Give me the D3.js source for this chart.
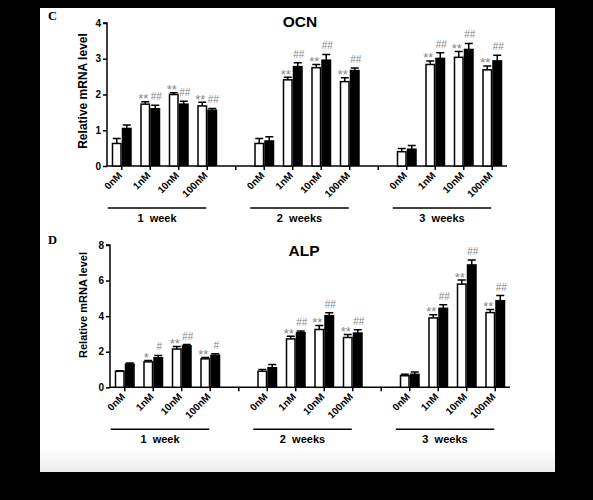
<!DOCTYPE html>
<html>
<head>
<meta charset="utf-8">
<script src="https://cdn.jsdelivr.net/npm/d3@7"></script>
<style>
  html, body { margin: 0; padding: 0; background: #000; }
  svg { display: block; font-family: "Liberation Sans", Arial, sans-serif; }
</style>
</head>
<body>
<svg id="chart" width="593" height="500"></svg>
<script>
// categories
const concentrations = ["0nM", "1nM", "10nM", "100nM"];
const weeks = ["1  week", "2  weeks", "3  weeks"];

// OCN panel (C), order: week1 0/1/10/100nM, week2 ..., week3 ...
const ocnWhite    = [0.63, 1.73, 2.00, 1.68,  0.63, 2.41, 2.75, 2.36,  0.40, 2.84, 3.04, 2.69];
const ocnWhiteErr = [0.14, 0.07, 0.05, 0.10,  0.14, 0.07, 0.09, 0.11,  0.09, 0.10, 0.16, 0.11];
const ocnBlack    = [1.05, 1.60, 1.73, 1.56,  0.70, 2.78, 2.96, 2.67,  0.47, 3.01, 3.26, 2.94];
const ocnBlackErr = [0.10, 0.10, 0.08, 0.05,  0.12, 0.11, 0.16, 0.07,  0.10, 0.16, 0.17, 0.16];
const ocnWhiteMark = ["", "**", "**", "**",  "", "**", "**", "**",  "", "**", "**", "**"];
const ocnBlackMark = ["", "##", "##", "##",  "", "##", "##", "##",  "", "##", "##", "##"];
const ocnTicks = [0, 1, 2, 3, 4];

// ALP panel (D)
const alpWhite    = [0.90, 1.43, 2.15, 1.60,  0.90, 2.72, 3.25, 2.80,  0.65, 3.90, 5.80, 4.20];
const alpWhiteErr = [0.03, 0.08, 0.15, 0.08,  0.10, 0.15, 0.22, 0.17,  0.09, 0.18, 0.23, 0.18];
const alpBlack    = [1.30, 1.66, 2.33, 1.80,  1.10, 3.07, 4.03, 3.05,  0.73, 4.44, 6.88, 4.87];
const alpBlackErr = [0.06, 0.13, 0.07, 0.09,  0.18, 0.10, 0.16, 0.19,  0.13, 0.20, 0.28, 0.29];
const alpWhiteMark = ["", "*", "**", "**",  "", "**", "**", "**",  "", "**", "**", "**"];
const alpBlackMark = ["", "#", "##", "#",  "", "##", "##", "##",  "", "##", "##", "##"];
const alpTicks = [0, 2, 4, 6, 8];

const svg = d3.select("#chart");

// white page on black
svg.append("rect").attr("x", 40).attr("y", 8).attr("width", 515).attr("height", 464).attr("fill", "#fff");
const grad = svg.append("defs").append("linearGradient").attr("id", "fade")
    .attr("x1", 0).attr("y1", 0).attr("x2", 0).attr("y2", 1);
grad.append("stop").attr("offset", 0).attr("stop-color", "#fff");
grad.append("stop").attr("offset", 1).attr("stop-color", "#ececec");
svg.append("rect").attr("x", 40).attr("y", 449).attr("width", 515).attr("height", 23).attr("fill", "url(#fade)");

function drawPanel(cfg) {
    const g = svg.append("g");
    const y = d3.scaleLinear().domain(cfg.domain).range([cfg.y0, cfg.y1]);
    const x = d3.scaleBand().domain(d3.range(14)).range([cfg.axisX + 0.5, cfg.axisX + 399.5]);
    const bw = 10;
    const slot = i => Math.floor(i / 4) * 5 + (i % 4);
    const cx = i => x(slot(i)) + x.bandwidth() / 2;

    // panel letter + title
    g.append("text").attr("x", 48).attr("y", cfg.letterY)
        .attr("font-family", "Liberation Serif, serif").attr("font-weight", "bold")
        .attr("font-size", 12.5).text(cfg.letter);
    g.append("text").attr("x", cfg.titleX).attr("y", cfg.titleY)
        .attr("text-anchor", "middle").attr("font-weight", "bold")
        .attr("font-size", 15.5).text(cfg.title);

    // y axis
    const yAxis = d3.axisLeft(y).tickValues(cfg.ticks).tickSize(4).tickPadding(2).tickFormat(d3.format("d"));
    const ya = g.append("g").attr("transform", `translate(${cfg.axisX},0)`).call(yAxis);
    ya.select(".domain").attr("stroke-width", 1.5).attr("d", `M-4,${cfg.y1}H0V${cfg.y0}`);
    ya.selectAll(".tick line").attr("stroke-width", 1.5);
    ya.selectAll(".tick text").attr("font-size", 10).attr("font-weight", "bold")
        .attr("font-family", "Liberation Sans, Arial, sans-serif");

    g.append("text")
        .attr("transform", `translate(${cfg.titleYX},${cfg.yTitleCY}) rotate(-90)`)
        .attr("text-anchor", "middle").attr("font-weight", "bold")
        .attr("font-size", cfg.yTitleSize).text("Relative mRNA level");

    // x baseline with a small tick under every slot
    g.append("line").attr("x1", cfg.axisX).attr("x2", cfg.axisX + 400)
        .attr("y1", cfg.y0).attr("y2", cfg.y0).attr("stroke", "#000").attr("stroke-width", 1.5);
    g.append("g").selectAll("line").data(x.domain()).join("line")
        .attr("x1", s => x(s) + x.bandwidth() / 2).attr("x2", s => x(s) + x.bandwidth() / 2)
        .attr("y1", cfg.y0).attr("y2", cfg.y0 + 4)
        .attr("stroke", "#000").attr("stroke-width", 1.5);

    const idx = d3.range(12);

    // error bars (drawn behind bars)
    function errBars(vals, errs, off) {
        g.append("g").selectAll("path").data(idx).join("path")
            .attr("d", i => {
                const ex = cx(i) + off;
                const top = y(vals[i] + errs[i]);
                return `M${ex},${y(vals[i])}V${top}M${ex - 4},${top}H${ex + 4}`;
            })
            .attr("fill", "none").attr("stroke", "#000").attr("stroke-width", 1.5);
    }
    errBars(cfg.white, cfg.whiteErr, -bw / 2);
    errBars(cfg.black, cfg.blackErr, bw / 2);

    g.append("g").selectAll("rect").data(idx).join("rect")
        .attr("x", i => cx(i) - bw + 0.75).attr("width", bw - 1.5)
        .attr("y", i => y(cfg.white[i])).attr("height", i => cfg.y0 - y(cfg.white[i]))
        .attr("fill", "#fff").attr("stroke", "#000").attr("stroke-width", 1.5);
    g.append("g").selectAll("rect").data(idx).join("rect")
        .attr("x", i => cx(i)).attr("width", bw)
        .attr("y", i => y(cfg.black[i]) - 0.75).attr("height", i => cfg.y0 - y(cfg.black[i]) + 0.75)
        .attr("fill", "#000");

    // significance marks
    g.append("g").selectAll("text").data(idx).join("text")
        .attr("x", i => cx(i) - bw / 2 - 2)
        .attr("y", i => y(cfg.white[i] + cfg.whiteErr[i]) + 1.5)
        .attr("text-anchor", "middle").attr("font-size", 13).attr("fill", "#888")
        .text(i => cfg.whiteMark[i]);
    g.append("g").selectAll("text").data(idx).join("text")
        .attr("x", i => cx(i) + bw / 2 + 1)
        .attr("y", i => y(cfg.black[i] + cfg.blackErr[i]) - 5)
        .attr("text-anchor", "middle").attr("font-size", 10).attr("fill", "#888")
        .text(i => cfg.blackMark[i]);

    // rotated concentration labels
    g.append("g").selectAll("text").data(idx).join("text")
        .attr("transform", i => `translate(${cx(i) + 1},${cfg.y0 + 10}) rotate(-45)`)
        .attr("text-anchor", "end").attr("font-size", 10).attr("font-weight", "bold")
        .text(i => concentrations[i % 4]);

    // week group lines and labels
    weeks.forEach((w, k) => {
        const a = cx(k * 4) - 14, b = cx(k * 4 + 3) - 1;
        g.append("line").attr("x1", a).attr("x2", b)
            .attr("y1", cfg.y0 + 42).attr("y2", cfg.y0 + 42)
            .attr("stroke", "#000").attr("stroke-width", 1.5);
        g.append("text").attr("x", (a + b) / 2).attr("y", cfg.y0 + 56)
            .attr("text-anchor", "middle").attr("font-size", 11).attr("font-weight", "bold")
            .attr("xml:space", "preserve").style("white-space", "pre")
            .text(w);
    });
}

drawPanel({
    letter: "C", letterY: 20, title: "OCN", titleX: 300, titleY: 27,
    domain: [0, 4], ticks: ocnTicks, y0: 166, y1: 23, axisX: 107,
    titleYX: 87, yTitleCY: 91, yTitleSize: 12,
    white: ocnWhite, whiteErr: ocnWhiteErr, black: ocnBlack, blackErr: ocnBlackErr,
    whiteMark: ocnWhiteMark, blackMark: ocnBlackMark
});
drawPanel({
    letter: "D", letterY: 244, title: "ALP", titleX: 304, titleY: 256,
    domain: [0, 8], ticks: alpTicks, y0: 387.3, y1: 245, axisX: 110,
    titleYX: 87, yTitleCY: 305, yTitleSize: 11,
    white: alpWhite, whiteErr: alpWhiteErr, black: alpBlack, blackErr: alpBlackErr,
    whiteMark: alpWhiteMark, blackMark: alpBlackMark
});
</script>
</body>
</html>
